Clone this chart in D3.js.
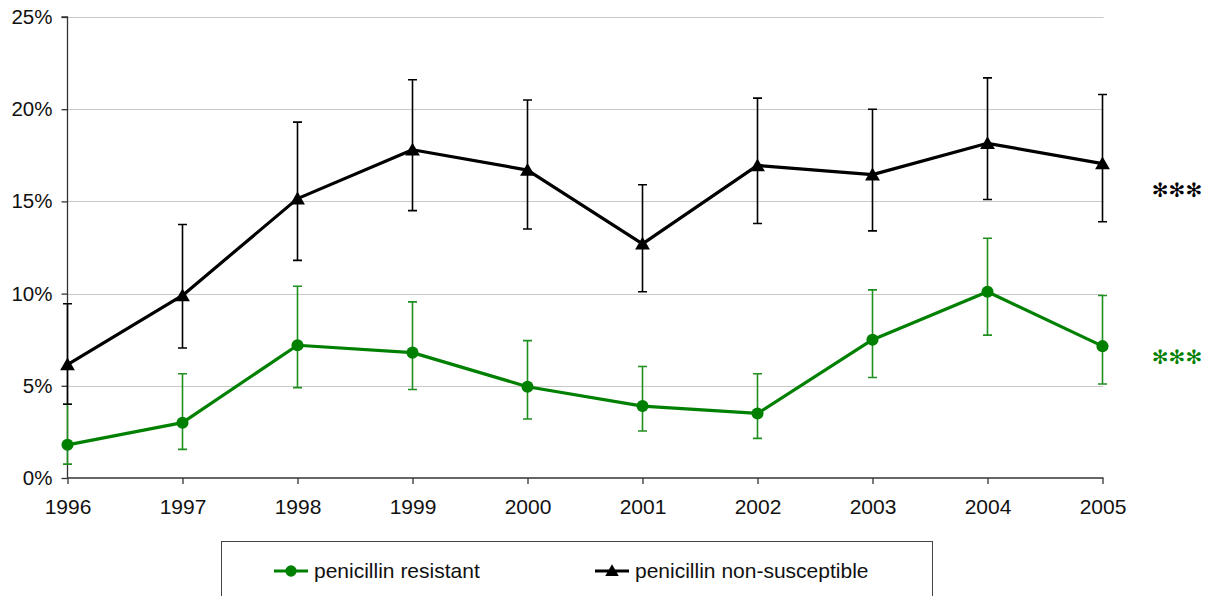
<!DOCTYPE html>
<html>
<head>
<meta charset="utf-8">
<script src="https://cdn.jsdelivr.net/npm/d3@7"></script>
<style>
  body { margin: 0; background: #fff; }
  svg { display: block; font-family: "Liberation Sans", Arial, sans-serif; }
</style>
</head>
<body>
<div id="chart"></div>
<script>
// data
const years = ["1996", "1997", "1998", "1999", "2000", "2001", "2002", "2003", "2004", "2005"];
const yTicks = [0, 5, 10, 15, 20, 25];

const resistant = [1.8, 3.0, 7.2, 6.8, 4.95, 3.9, 3.5, 7.5, 10.1, 7.15];
const resistantLow = [0.75, 1.55, 4.9, 4.8, 3.2, 2.55, 2.15, 5.45, 7.75, 5.1];
const resistantHigh = [4.0, 5.65, 10.4, 9.55, 7.45, 6.05, 5.65, 10.2, 13.0, 9.9];

const nonSusc = [6.15, 9.9, 15.15, 17.8, 16.7, 12.7, 16.95, 16.45, 18.15, 17.05];
const nonSuscLow = [4.0, 7.05, 11.8, 14.5, 13.5, 10.1, 13.8, 13.4, 15.1, 13.9];
const nonSuscHigh = [9.45, 13.75, 19.3, 21.6, 20.5, 15.9, 20.6, 20.0, 21.7, 20.8];

const seriesNames = ["penicillin resistant", "penicillin non-susceptible"];
const significance = ["✻✻✻", "✻✻✻"];

// set dimensions
const width = 1223,
    height = 596;

const green = "#008000",
    greenBar = "#1f8f1f";

const svg = d3.select("#chart")
    .append("svg")
    .attr("width", width)
    .attr("height", height);

// scales
const x = d3.scalePoint()
    .domain(years)
    .range([67.5, 1102.5]);

const y = d3.scaleLinear()
    .domain([0, 25])
    .range([478, 17]);

// gridlines
svg.append("g")
    .selectAll("line")
    .data(yTicks.filter(d => d > 0))
    .enter()
    .append("line")
    .attr("x1", x.range()[0])
    .attr("x2", x.range()[1] + 1)
    .attr("y1", d => Math.round(y(d)) + 0.5)
    .attr("y2", d => Math.round(y(d)) + 0.5)
    .attr("stroke", "#c8c8c8")
    .attr("stroke-width", 1.2);

// axes
const yAxis = svg.append("g")
    .attr("transform", `translate(${x.range()[0]},0)`)
    .call(d3.axisLeft(y)
        .tickValues(yTicks)
        .tickSize(6)
        .tickPadding(9)
        .tickFormat(d => d + "%"));

const xAxis = svg.append("g")
    .attr("transform", `translate(0,${y(0)})`)
    .call(d3.axisBottom(x)
        .tickSize(6)
        .tickPadding(15)
        .tickSizeOuter(0));

yAxis.selectAll("text").attr("font-size", 20.5).attr("fill", "#111");
xAxis.selectAll("text").attr("font-size", 21).attr("fill", "#111");
yAxis.select(".domain").attr("d", `M-6,${y(25)}H0V${y(0)}`);
svg.selectAll(".domain, .tick line").attr("stroke", "#333").attr("stroke-width", 1.3);
xAxis.select(".domain").attr("d", `M${x.range()[0]},0H${x.range()[1] + 1}`);

// draw one series with error bars
function drawSeries(values, low, high, color, barColor, symbol) {
    const g = svg.append("g");

    g.selectAll(".err")
        .data(years)
        .enter()
        .append("path")
        .attr("class", "err")
        .attr("d", (d, i) => {
            const cx = x(d), t = y(high[i]), b = y(low[i]);
            return `M${cx - 4.5},${t}H${cx + 4.5}M${cx},${t}V${b}M${cx - 4.5},${b}H${cx + 4.5}`;
        })
        .attr("fill", "none")
        .attr("stroke", barColor)
        .attr("stroke-width", 1.6);

    const line = d3.line()
        .x((d, i) => x(years[i]))
        .y(d => y(d));

    g.append("path")
        .datum(values)
        .attr("d", line)
        .attr("fill", "none")
        .attr("stroke", color)
        .attr("stroke-width", 3.2)
        .attr("stroke-linejoin", "round");

    g.selectAll(".mark")
        .data(values)
        .enter()
        .append("path")
        .attr("class", "mark")
        .attr("transform", (d, i) => `translate(${x(years[i])},${y(d) + (symbol === d3.symbolTriangle ? 1.5 : 0)})`)
        .attr("d", d3.symbol().type(symbol).size(symbol === d3.symbolTriangle ? 95 : 115))
        .attr("fill", color);
}

drawSeries(resistant, resistantLow, resistantHigh, green, greenBar, d3.symbolCircle);
drawSeries(nonSusc, nonSuscLow, nonSuscHigh, "#000", "#000", d3.symbolTriangle);

// significance stars
svg.append("g")
    .selectAll("text")
    .data(significance)
    .enter()
    .append("text")
    .attr("x", 1177)
    .attr("y", (d, i) => i === 0 ? 357 : 190)
    .attr("dy", "0.35em")
    .attr("text-anchor", "middle")
    .attr("font-family", "DejaVu Sans")
    .attr("font-size", 20)
    .attr("fill", (d, i) => i === 0 ? green : "#000")
    .text(d => d);

// legend
const legend = svg.append("g");

legend.append("rect")
    .attr("x", 221.5)
    .attr("y", 541.5)
    .attr("width", 711)
    .attr("height", 80)
    .attr("fill", "#fff")
    .attr("stroke", "#444")
    .attr("stroke-width", 1);

const legendItems = legend.selectAll(".item")
    .data(seriesNames)
    .enter()
    .append("g")
    .attr("class", "item")
    .attr("transform", (d, i) => `translate(${i === 0 ? 274 : 595},571)`);

legendItems.append("line")
    .attr("x1", 0)
    .attr("x2", 34)
    .attr("stroke", (d, i) => i === 0 ? green : "#000")
    .attr("stroke-width", 3);

legendItems.append("path")
    .attr("transform", (d, i) => `translate(17,${i === 0 ? 0 : 1})`)
    .attr("d", (d, i) => d3.symbol().type(i === 0 ? d3.symbolCircle : d3.symbolTriangle).size(i === 0 ? 100 : 80)())
    .attr("fill", (d, i) => i === 0 ? green : "#000");

legendItems.append("text")
    .attr("x", 40)
    .attr("dy", "0.35em")
    .attr("font-size", 21)
    .attr("fill", "#111")
    .text(d => d);
</script>
</body>
</html>
